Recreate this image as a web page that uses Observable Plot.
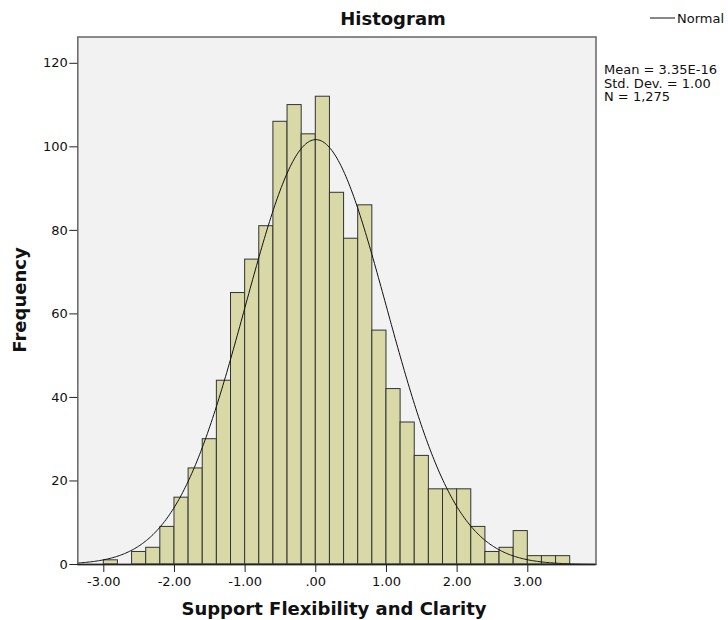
<!DOCTYPE html>
<html><head><meta charset="utf-8">
<script src="https://cdn.jsdelivr.net/npm/d3@7"></script>
<script src="https://cdn.jsdelivr.net/npm/@observablehq/plot@0.6"></script>
<style>
body{margin:0;background:#fff;}
#wrap{position:relative;width:728px;height:620px;}
</style></head><body>
<div id="wrap"></div>
<script>
// ---- Data ----
const binLower = [-3.0,-2.8,-2.6,-2.4,-2.2,-2.0,-1.8,-1.6,-1.4,-1.2,-1.0,-0.8,-0.6,-0.4,-0.2,0.0,0.2,0.4,0.6,0.8,1.0,1.2,1.4,1.6,1.8,2.0,2.2,2.4,2.6,2.8,3.0,3.2,3.4];
const counts   = [1,0,3,4,9,16,23,30,44,65,73,81,106,110,103,112,89,78,86,56,42,34,26,18,18,18,9,3,4,8,2,2,2];
const binWidth = 0.2;
const xTicks = [-3,-2,-1,0,1,2,3];
const xTickLabels = ["-3.00","-2.00","-1.00",".00","1.00","2.00","3.00"];
const yTicks = [0,20,40,60,80,100,120];
const statsLines = ["Mean = 3.35E-16","Std. Dev. = 1.00","N = 1,275"];
const MEAN = 0, SD = 1.00, N = 1275;
const titleText = "Histogram";
const xLabel = "Support Flexibility and Clarity";
const yLabel = "Frequency";
const legendLabel = "Normal";

const bins = binLower.map((lo,i)=>({x1:lo, x2:lo+binWidth, count:counts[i]})).filter(d=>d.count>0);
const xDomain = [-3.368, 3.965];
const yDomain = [0, 126.3];
// fitted normal curve (from stated Mean, Std. Dev., N)
const curve = d3.range(0, 401).map(i => {
  const x = xDomain[0] + (xDomain[1]-xDomain[0])*i/400;
  const z = (x-MEAN)/SD;
  return {x, y: N*binWidth*Math.exp(-0.5*z*z)/(SD*Math.sqrt(2*Math.PI))};
});

const font = "'DejaVu Sans', sans-serif";
const chart = Plot.plot({
  width: 728, height: 620,
  marginLeft: 77.3, marginRight: 132.5, marginTop: 36.5, marginBottom: 56,
  style: {fontFamily: font, fontSize: "13px", color: "#111", background: "#fff"},
  x: {domain: xDomain},
  y: {domain: yDomain},
  marks: [
    Plot.frame({fill: "#f2f2f2"}),
    Plot.rectY(bins, {x1:"x1", x2:"x2", y:"count", fill:"#d9d9a7", stroke:"#333", strokeWidth:1}),
    Plot.line(curve, {x:"x", y:"y", stroke:"#111", strokeWidth:1, curve:"linear"}),
    Plot.frame({stroke:"#666", strokeWidth:1.5}),
    Plot.ruleY([0], {stroke:"#222", strokeWidth:1.5}),
    Plot.axisX({ticks: xTicks, tickFormat: (d)=>xTickLabels[xTicks.indexOf(d)], tickSize: 8, tickPadding: 4, label: null, fontSize: 13, stroke:"#222", fill:"#111"}),
    Plot.axisY({ticks: yTicks, tickSize: 8, tickPadding: 2, label: null, fontSize: 13, stroke:"#222", fill:"#111"})
  ]
});
document.getElementById("wrap").appendChild(chart);

// annotation text (title, axis labels, legend, statistics)
const svg = d3.select(chart);
const g = svg.append("g").attr("font-family", font).attr("fill", "#111").attr("text-anchor", "start");
g.append("text").text(titleText).attr("x", 393).attr("y", 25).attr("text-anchor","middle").attr("font-weight","bold").attr("font-size", 18);
g.append("text").text(xLabel).attr("x", 334).attr("y", 615).attr("text-anchor","middle").attr("font-weight","bold").attr("font-size", 18);
g.append("text").text(yLabel).attr("transform","translate(26,300) rotate(-90)").attr("text-anchor","middle").attr("font-weight","bold").attr("font-size", 18);
g.append("line").attr("x1",650).attr("x2",675).attr("y1",18).attr("y2",18).attr("stroke","#111").attr("stroke-width",1);
g.append("text").text(legendLabel).attr("x",677).attr("y",23).attr("font-size",13).attr("text-anchor","start");
statsLines.forEach((s,i)=>{
  g.append("text").text(s).attr("x",604).attr("y",74 + i*13.6).attr("font-size",13).attr("text-anchor","start");
});
</script>
</body></html>
